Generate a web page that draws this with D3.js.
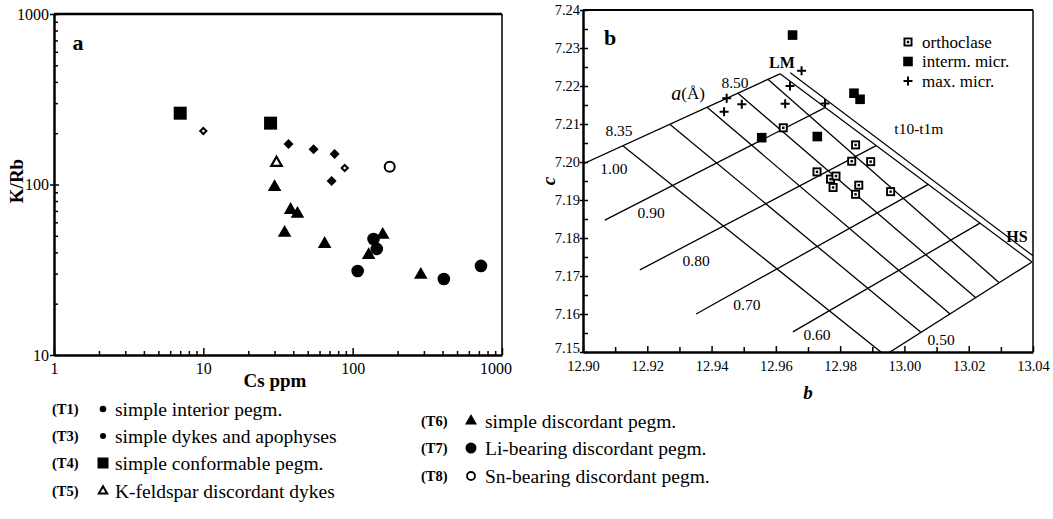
<!DOCTYPE html>
<html>
<head>
<meta charset="utf-8">
<script src="https://d3js.org/d3.v7.min.js"></script>
<style>
    body { margin: 0; background: #fff; }
    svg text { font-family: "Liberation Serif", "DejaVu Serif", serif !important; fill: #000; }
    .axis path, .axis line { stroke: #000; }
</style>
</head>
<body>
<svg id="chart" width="1053" height="519" font-family="Liberation Serif, serif"></svg>
<script>
// ---- panel a : Cs (ppm) vs K/Rb, one array per pegmatite type ----
var t1 = [[37.2, 173], [54.7, 161], [75.7, 151], [72.3, 105]];
var t3 = [[10, 206], [88.4, 125]];
var t4 = [[7.0, 262], [28.2, 229]];
var t5 = [[30.9, 134]];
var t6 = [[30.0, 96.7], [38.4, 70.9], [42.7, 67.2], [35.0, 52.0], [64.9, 44.8], [159, 50.6], [128, 38.6], [286, 29.5]];
var t7 = [[138, 47.9], [145, 41.9], [108, 31.1], [408, 27.9], [723, 33.3]];
var t8 = [[177, 127]];

var legendCodes = ["(T1)", "(T3)", "(T4)", "(T5)", "(T6)", "(T7)", "(T8)"];
var legendNames = ["simple interior pegm.", "simple dykes and apophyses", "simple conformable pegm.",
    "K-feldspar discordant dykes", "simple discordant pegm.", "Li-bearing discordant pegm.", "Sn-bearing discordant pegm."];

// ---- panel b : b vs c cell parameters ----
var orthoclase = [[12.9623, 7.2090], [12.9848, 7.2045], [12.9836, 7.2002], [12.9895, 7.2001], [12.9728, 7.1974],
    [12.9770, 7.1955], [12.9787, 7.1963], [12.9778, 7.1933], [12.9858, 7.1939], [12.9848, 7.1915], [12.9957, 7.1922]];
var intermMicr = [[12.9556, 7.2064], [12.9729, 7.2067], [12.9843, 7.2181], [12.9862, 7.2165], [12.9652, 7.2334]];
var maxMicr = [[12.9447, 7.2168], [12.9439, 7.2132], [12.9494, 7.2152], [12.9629, 7.2153], [12.9644, 7.2200],
    [12.9680, 7.2240], [12.9753, 7.2154]];

// t1o+t1m isopleths: [label, b1, c1, b2, c2]
var tLines = [["1.00", 12.900, 7.1995, 12.9613, 7.2232], ["0.90", 12.9068, 7.1847, 12.9753, 7.2143],
    ["0.80", 12.9177, 7.1716, 12.9912, 7.2043], ["0.70", 12.9352, 7.1600, 13.0074, 7.1941],
    ["0.60", 12.9653, 7.1553, 13.0235, 7.1839], ["0.50", 12.9862, 7.1450, 13.0397, 7.1737]];
// a (Angstrom) isopleths
var aLines = [["8.35", 12.9124, 7.2043, 12.9940, 7.1491], ["8.40", 12.9271, 7.2099, 13.0052, 7.1551],
    ["8.45", 12.9386, 7.2144, 13.0142, 7.1600], ["8.50", 12.9482, 7.2181, 13.0222, 7.1643],
    ["8.55", 12.9576, 7.2217, 13.0294, 7.1683]];
// LM - HS join and the t1o-t1m line
var edgeLines = [[12.9613, 7.2232, 13.0397, 7.1737], [12.9645, 7.2235, 13.0405, 7.1750]];
// grid labels: [text, b, c]
var gridLabels = [["1.00", 12.9096, 7.1984], ["0.90", 12.9212, 7.1866], ["0.80", 12.9352, 7.1742],
    ["0.70", 12.9510, 7.1626], ["0.60", 12.9728, 7.1545], ["0.50", 13.0114, 7.1532],
    ["8.35", 12.9112, 7.2082], ["8.50", 12.9473, 7.2208], ["t10-t1m", 13.0045, 7.2089]];
var boldLabels = [["LM", 12.9619, 7.2263], ["HS", 13.0350, 7.1803]];

var svg = d3.select("#chart");

var isPow10 = function (d) {
    return Math.abs(Math.log10(d) - Math.round(Math.log10(d))) < 1e-9;
};

// ================= panel a =================
var xa = d3.scaleLog().domain([1, 1000]).range([54, 502]);
var ya = d3.scaleLog().domain([10, 1000]).range([355, 14]);

var ga = svg.append("g");

var xaxA = ga.append("g").attr("class", "axis")
    .attr("transform", "translate(0," + ya.range()[0] + ")")
    .call(d3.axisBottom(xa).tickValues(xa.ticks()).tickSize(-4).tickSizeOuter(0).tickPadding(8)
        .tickFormat(function (d) { return isPow10(d) ? d : ""; }));
xaxA.attr("font-family", null);
xaxA.select(".domain").attr("stroke-width", 2.5);
xaxA.selectAll(".tick line").attr("stroke-width", 1.5).attr("y2", function (d) { return isPow10(d) ? -7 : -4; });
xaxA.selectAll("text").attr("font-size", 16);
xaxA.selectAll(".tick text").filter(function (d) { return d === 1000; }).attr("dx", "-0.4em");

var yaxA = ga.append("g").attr("class", "axis")
    .attr("transform", "translate(" + xa.range()[0] + ",0)")
    .call(d3.axisLeft(ya).tickValues(ya.ticks()).tickSize(-4).tickSizeOuter(0).tickPadding(5)
        .tickFormat(function (d) { return isPow10(d) ? d : ""; }));
yaxA.attr("font-family", null);
yaxA.select(".domain").attr("stroke-width", 2.5);
yaxA.selectAll(".tick line").attr("stroke-width", 1.5)
    .attr("x1", function (d) { return isPow10(d) ? -4 : 0; })
    .attr("x2", function (d) { return isPow10(d) ? 5 : 4; });
yaxA.selectAll("text").attr("font-size", 16);

// frame
ga.append("line").attr("x1", xa.range()[0]).attr("x2", xa.range()[1])
    .attr("y1", ya.range()[1]).attr("y2", ya.range()[1]).attr("stroke", "#000").attr("stroke-width", 2.5);
ga.append("line").attr("x1", xa.range()[1]).attr("x2", xa.range()[1])
    .attr("y1", ya.range()[1]).attr("y2", ya.range()[0]).attr("stroke", "#000").attr("stroke-width", 1.5);

ga.append("text").attr("x", 275).attr("y", 380).attr("text-anchor", "middle").attr("dominant-baseline", "central")
    .attr("font-size", 19).attr("font-weight", "bold").text("Cs ppm");
ga.append("text").attr("transform", "translate(16,181) rotate(-90)").attr("text-anchor", "middle")
    .attr("dominant-baseline", "central").attr("font-size", 19).attr("font-weight", "bold").text("K/Rb");
ga.append("text").attr("x", 78).attr("y", 42).attr("text-anchor", "middle").attr("dominant-baseline", "central")
    .attr("font-size", 22).attr("font-weight", "bold").text("a");

var diamondPath = function (r) {
    return "M0," + (-r) + "L" + r + ",0L0," + r + "L" + (-r) + ",0Z";
};

var paintMarker = function (sel, kind) {
    if (kind === "T1") {
        sel.append("path").attr("d", diamondPath(5)).attr("fill", "#000");
    } else if (kind === "T3") {
        sel.append("path").attr("d", diamondPath(4.5)).attr("fill", "#000");
        sel.append("circle").attr("r", 1.3).attr("fill", "#fff");
    } else if (kind === "T4") {
        sel.append("rect").attr("x", -6.5).attr("y", -6.5).attr("width", 13).attr("height", 13).attr("fill", "#000");
    } else if (kind === "T5") {
        sel.append("path").attr("d", d3.symbol(d3.symbolTriangle, 48)()).attr("fill", "#fff")
            .attr("stroke", "#000").attr("stroke-width", 2.2);
    } else if (kind === "T6") {
        sel.append("path").attr("d", d3.symbol(d3.symbolTriangle, 80)()).attr("fill", "#000");
    } else if (kind === "T7") {
        sel.append("circle").attr("r", 6.3).attr("fill", "#000");
    } else if (kind === "T8") {
        sel.append("circle").attr("r", 5).attr("fill", "#fff").attr("stroke", "#000").attr("stroke-width", 2);
    } else if (kind === "orth") {
        sel.append("rect").attr("x", -4.5).attr("y", -4.5).attr("width", 9).attr("height", 9).attr("fill", "#000");
        sel.append("rect").attr("x", -2.6).attr("y", -2.6).attr("width", 5.2).attr("height", 5.2).attr("fill", "#fff");
        sel.append("rect").attr("x", -1.2).attr("y", -1.2).attr("width", 2.4).attr("height", 2.4).attr("fill", "#000");
    } else if (kind === "interm") {
        sel.append("rect").attr("x", -4.8).attr("y", -4.8).attr("width", 9.6).attr("height", 9.6).attr("fill", "#000");
    } else if (kind === "max") {
        sel.append("path").attr("d", "M-4.5,0H4.5M0,-4.5V4.5").attr("stroke", "#000").attr("stroke-width", 2);
    }
};

var drawSet = function (g, pts, sx, sy, kind) {
    var sel = g.selectAll(null).data(pts).enter().append("g")
        .attr("transform", function (d) { return "translate(" + sx(d[0]) + "," + sy(d[1]) + ")"; });
    paintMarker(sel, kind);
};

var ptsA = ga.append("g");
drawSet(ptsA, t4, xa, ya, "T4");
drawSet(ptsA, t1, xa, ya, "T1");
drawSet(ptsA, t3, xa, ya, "T3");
drawSet(ptsA, t5, xa, ya, "T5");
drawSet(ptsA, t6, xa, ya, "T6");
drawSet(ptsA, t7, xa, ya, "T7");
drawSet(ptsA, t8, xa, ya, "T8");

// legend for panel a
var legendKinds = ["T1", "T3", "T4", "T5", "T6", "T7", "T8"];
var legRows = [409, 436, 463, 491, 421, 448, 476];
var legend = svg.append("g");
legendKinds.forEach(function (k, i) {
    var left = i < 4;
    var lx = left ? 52 : 421, sx = left ? 103 : 471, tx = left ? 115 : 485;
    var row = legend.append("g");
    row.append("text").attr("x", lx).attr("y", legRows[i]).attr("dominant-baseline", "central")
        .attr("font-size", 14.5).attr("font-weight", "bold").text(legendCodes[i]);
    var m = row.append("g").attr("transform", "translate(" + sx + "," + legRows[i] + ")");
    if (k === "T1") m.append("circle").attr("r", 3.3).attr("fill", "#000");
    else if (k === "T3") m.append("circle").attr("r", 3).attr("fill", "#000");
    else if (k === "T4") m.append("rect").attr("x", -5.5).attr("y", -5.5).attr("width", 11).attr("height", 11).attr("fill", "#000");
    else if (k === "T5") m.append("path").attr("d", d3.symbol(d3.symbolTriangle, 30)()).attr("fill", "#fff")
        .attr("stroke", "#000").attr("stroke-width", 2);
    else if (k === "T6") m.append("path").attr("d", d3.symbol(d3.symbolTriangle, 62)()).attr("fill", "#000");
    else if (k === "T7") m.append("circle").attr("r", 5.5).attr("fill", "#000");
    else if (k === "T8") m.append("circle").attr("r", 4).attr("fill", "#fff").attr("stroke", "#000").attr("stroke-width", 1.8);
    row.append("text").attr("x", tx).attr("y", legRows[i]).attr("dominant-baseline", "central")
        .attr("font-size", 19.5).text(legendNames[i]);
});

// ================= panel b =================
var xb = d3.scaleLinear().domain([12.90, 13.04]).range([583, 1033]);
var yb = d3.scaleLinear().domain([7.15, 7.24]).range([352, 10]);
var gb = svg.append("g");

gb.append("clipPath").attr("id", "clipb").append("rect")
    .attr("x", xb.range()[0]).attr("y", yb.range()[1])
    .attr("width", xb.range()[1] - xb.range()[0]).attr("height", yb.range()[0] - yb.range()[1]);

var grid = gb.append("g").attr("clip-path", "url(#clipb)");
var lineSets = tLines.concat(aLines);
grid.selectAll(null).data(lineSets).enter().append("line")
    .attr("x1", function (d) { return xb(d[1]); }).attr("y1", function (d) { return yb(d[2]); })
    .attr("x2", function (d) { return xb(d[3]); }).attr("y2", function (d) { return yb(d[4]); })
    .attr("stroke", "#000").attr("stroke-width", 1.3);
grid.selectAll(null).data(edgeLines).enter().append("line")
    .attr("x1", function (d) { return xb(d[0]); }).attr("y1", function (d) { return yb(d[1]); })
    .attr("x2", function (d) { return xb(d[2]); }).attr("y2", function (d) { return yb(d[3]); })
    .attr("stroke", "#000").attr("stroke-width", 1.2);

var xTicksB = d3.range(0, 15).map(function (i) { return 12.90 + i * 0.01; });
var yTicksB = d3.range(0, 19).map(function (i) { return 7.15 + i * 0.005; });
var isMajorX = function (d) { return Math.round(d * 100) % 2 === 0; };
var isMajorY = function (d) { return Math.abs(d * 100 - Math.round(d * 100)) < 1e-6; };

var xaxB = gb.append("g").attr("class", "axis")
    .attr("transform", "translate(0," + yb.range()[0] + ")")
    .call(d3.axisBottom(xb).tickValues(xTicksB).tickSize(-5).tickSizeOuter(0).tickPadding(9)
        .tickFormat(function (d) { return isMajorX(d) ? d3.format(".2f")(d) : ""; }));
xaxB.attr("font-family", null);
xaxB.select(".domain").attr("stroke-width", 2.5);
xaxB.selectAll(".tick line").attr("stroke-width", 1.5).attr("y2", function (d) { return isMajorX(d) ? -6 : -5; });
xaxB.selectAll("text").attr("font-size", 14.5);

var yaxB = gb.append("g").attr("class", "axis")
    .attr("transform", "translate(" + xb.range()[0] + ",0)")
    .call(d3.axisLeft(yb).tickValues(yTicksB).tickSize(-5).tickSizeOuter(0).tickPadding(3)
        .tickFormat(function (d) { return isMajorY(d) ? d3.format(".2f")(d) : ""; }));
yaxB.attr("font-family", null);
yaxB.select(".domain").attr("stroke-width", 2.5);
yaxB.selectAll(".tick line").attr("stroke-width", 1.5)
    .attr("x1", function (d) { return isMajorY(d) ? -3 : 0; });
yaxB.selectAll("text").attr("font-size", 14.5);
// lowest c label sits just above the b labels
yaxB.selectAll(".tick text").filter(function (d) { return d < 7.151; }).attr("dy", "0.05em");

gb.append("line").attr("x1", xb.range()[0]).attr("x2", xb.range()[1])
    .attr("y1", yb.range()[1]).attr("y2", yb.range()[1]).attr("stroke", "#000").attr("stroke-width", 2);
gb.append("line").attr("x1", xb.range()[1]).attr("x2", xb.range()[1])
    .attr("y1", yb.range()[1]).attr("y2", yb.range()[0]).attr("stroke", "#000").attr("stroke-width", 1.5);

gb.append("text").attr("x", 808).attr("y", 392).attr("text-anchor", "middle").attr("dominant-baseline", "central")
    .attr("font-size", 19).attr("font-weight", "bold").attr("font-style", "italic").text("b");
gb.append("text").attr("transform", "translate(548,181) rotate(-90)").attr("text-anchor", "middle")
    .attr("dominant-baseline", "central").attr("font-size", 19).attr("font-weight", "bold").attr("font-style", "italic").text("c");
gb.append("text").attr("x", 610).attr("y", 37).attr("text-anchor", "middle").attr("dominant-baseline", "central")
    .attr("font-size", 22).attr("font-weight", "bold").text("b");

gb.selectAll(null).data(gridLabels).enter().append("text")
    .attr("x", function (d) { return xb(d[1]); }).attr("y", function (d) { return yb(d[2]); })
    .attr("text-anchor", "middle").attr("dominant-baseline", "central").attr("font-size", 15.5)
    .text(function (d) { return d[0]; });
gb.selectAll(null).data(boldLabels).enter().append("text")
    .attr("x", function (d) { return xb(d[1]); }).attr("y", function (d) { return yb(d[2]); })
    .attr("text-anchor", "middle").attr("dominant-baseline", "central").attr("font-size", 16).attr("font-weight", "bold")
    .text(function (d) { return d[0]; });
var aLab = gb.append("text").attr("x", xb(12.9327)).attr("y", yb(7.2182)).attr("text-anchor", "middle")
    .attr("dominant-baseline", "central").attr("font-size", 17);
aLab.append("tspan").attr("font-style", "italic").attr("font-size", 20).text("a");
aLab.append("tspan").text("(Å)");

var ptsB = gb.append("g");
drawSet(ptsB, orthoclase, xb, yb, "orth");
drawSet(ptsB, intermMicr, xb, yb, "interm");
drawSet(ptsB, maxMicr, xb, yb, "max");

// legend panel b
var legB = [["orth", "orthoclase"], ["interm", "interm. micr."], ["max", "max. micr."]];
legB.forEach(function (d, i) {
    var yy = 42 + i * 19.5;
    var m = gb.append("g").attr("transform", "translate(908," + yy + ")");
    paintMarker(m, d[0]);
    gb.append("text").attr("x", 922).attr("y", yy).attr("dominant-baseline", "central")
        .attr("font-size", 17).text(d[1]);
});
</script>
</body>
</html>
